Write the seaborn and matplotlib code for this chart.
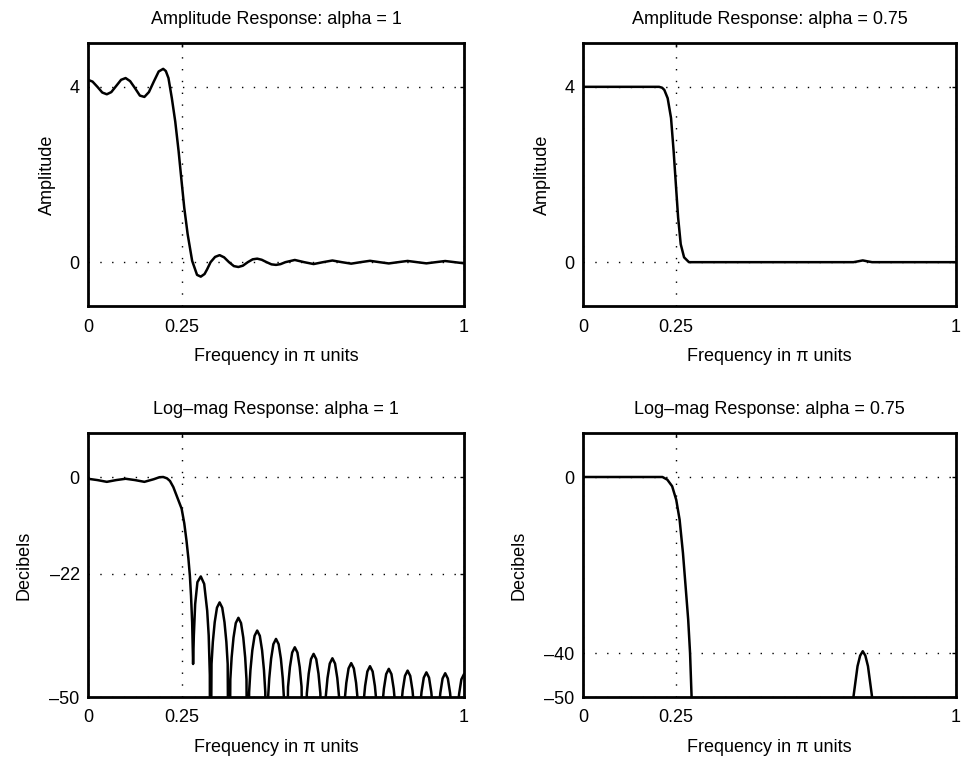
import matplotlib
matplotlib.use("Agg")
import matplotlib.pyplot as plt
import seaborn as sns

# ---------------- data ----------------
x_ticks = [0, 0.25, 1]
x_ticklabels = ["0", "0.25", "1"]

titles = ["Amplitude Response: alpha = 1", "Amplitude Response: alpha = 0.75",
          "Log\u2013mag Response: alpha = 1", "Log\u2013mag Response: alpha = 0.75"]

# Amplitude response, alpha = 1
freq_amp1 = [0.000, 0.012, 0.025, 0.038, 0.050, 0.062, 0.075, 0.088, 0.100, 0.112,
             0.125, 0.138, 0.150, 0.162, 0.175, 0.188, 0.200, 0.207, 0.214, 0.223,
             0.232, 0.241, 0.248, 0.256, 0.265, 0.277, 0.290, 0.300, 0.310, 0.317,
             0.326, 0.338, 0.350, 0.362, 0.375, 0.388, 0.400, 0.412, 0.425, 0.438,
             0.450, 0.462, 0.475, 0.488, 0.500, 0.512, 0.525, 0.550, 0.575, 0.600,
             0.625, 0.650, 0.675, 0.700, 0.725, 0.750, 0.775, 0.800, 0.825, 0.850,
             0.875, 0.900, 0.925, 0.950, 0.975, 1.000]
amp1 = [4.16, 4.12, 4.00, 3.87, 3.83, 3.88, 4.02, 4.16, 4.20, 4.13,
        3.97, 3.80, 3.77, 3.88, 4.12, 4.35, 4.41, 4.36, 4.20, 3.74,
        3.21, 2.53, 1.92, 1.24, 0.64, 0.03, -0.29, -0.33, -0.27, -0.16,
        0.00, 0.12, 0.16, 0.11, 0.00, -0.09, -0.11, -0.08, 0.00, 0.065,
        0.08, 0.055, 0.00, -0.05, -0.062, -0.045, 0.00, 0.05, 0.00, -0.043,
        0.00, 0.038, 0.00, -0.034, 0.00, 0.031, 0.00, -0.029, 0.00, 0.028,
        0.00, -0.027, 0.00, 0.026, 0.00, -0.026]

# Amplitude response, alpha = 0.75
freq_amp2 = [0.000, 0.100, 0.204, 0.212, 0.218, 0.227, 0.236, 0.243, 0.249, 0.255,
             0.262, 0.271, 0.284, 0.500, 0.725, 0.738, 0.750, 0.762, 0.775, 1.000]
amp2 = [4.00, 4.00, 4.00, 3.98, 3.93, 3.74, 3.29, 2.53, 1.77, 1.02,
        0.41, 0.11, 0.00, 0.00, 0.00, 0.02, 0.04, 0.02, 0.00, 0.00]

# Log-magnitude response (dB), alpha = 1
freq_db1 = [0.000, 0.025, 0.050, 0.075, 0.100, 0.125, 0.150, 0.175, 0.190, 0.200,
            0.210, 0.218, 0.227, 0.236, 0.243, 0.249, 0.256, 0.262, 0.267, 0.271,
            0.274, 0.277, 0.2795,
            0.2815, 0.285, 0.291, 0.300, 0.309, 0.317, 0.321, 0.324, 0.325,
            0.3285, 0.332, 0.337, 0.343, 0.350, 0.357, 0.363, 0.368, 0.3715, 0.375,
            0.3785, 0.382, 0.387, 0.393, 0.400, 0.407, 0.413, 0.418, 0.4215, 0.425,
            0.4285, 0.432, 0.437, 0.443, 0.450, 0.457, 0.463, 0.468, 0.4715, 0.475,
            0.4785, 0.482, 0.487, 0.493, 0.500, 0.507, 0.513, 0.518, 0.5215, 0.525,
            0.532, 0.537, 0.543, 0.550, 0.557, 0.563, 0.568, 0.575,
            0.582, 0.587, 0.593, 0.600, 0.607, 0.613, 0.618, 0.625,
            0.632, 0.637, 0.643, 0.650, 0.657, 0.663, 0.668, 0.675,
            0.682, 0.687, 0.693, 0.700, 0.707, 0.713, 0.718, 0.725,
            0.732, 0.737, 0.743, 0.750, 0.757, 0.763, 0.768, 0.775,
            0.782, 0.787, 0.793, 0.800, 0.807, 0.813, 0.818, 0.825,
            0.832, 0.837, 0.843, 0.850, 0.857, 0.863, 0.868, 0.875,
            0.882, 0.887, 0.893, 0.900, 0.907, 0.913, 0.918, 0.925,
            0.932, 0.937, 0.943, 0.950, 0.957, 0.963, 0.968, 0.975,
            0.982, 0.987, 0.993, 1.000]
db1 = [-0.4, -0.7, -1.1, -0.7, -0.4, -0.7, -1.1, -0.5, -0.05, 0.0,
       -0.3, -0.9, -2.3, -4.3, -5.8, -7.2, -10.5, -14.5, -18.5, -22.5,
       -27.0, -33.0, -42.5,
       -36.0, -28.9, -23.9, -22.6, -24.3, -30.4, -36.0, -45.0, -90,
       -42.5, -37.5, -33.0, -29.7, -28.5, -29.7, -33.0, -37.5, -42.5, -90,
       -46.0, -41.0, -36.5, -33.2, -32.0, -33.2, -36.5, -41.0, -46.0, -90,
       -48.9, -43.9, -39.4, -36.1, -34.9, -36.1, -39.4, -43.9, -48.9, -90,
       -50.8, -45.8, -41.3, -38.0, -36.8, -38.0, -41.3, -45.8, -50.8, -90,
       -47.7, -43.2, -39.9, -38.7, -39.9, -43.2, -47.7, -90,
       -49.2, -44.7, -41.4, -40.2, -41.4, -44.7, -49.2, -90,
       -50.2, -45.7, -42.4, -41.2, -42.4, -45.7, -50.2, -90,
       -51.3, -46.8, -43.5, -42.3, -43.5, -46.8, -51.3, -90,
       -52.0, -47.5, -44.2, -43.0, -44.2, -47.5, -52.0, -90,
       -52.6, -48.1, -44.8, -43.6, -44.8, -48.1, -52.6, -90,
       -53.0, -48.5, -45.2, -44.0, -45.2, -48.5, -53.0, -90,
       -53.4, -48.9, -45.6, -44.4, -45.6, -48.9, -53.4, -90,
       -53.6, -49.1, -45.8, -44.6, -45.8, -49.1, -53.6, -90,
       -53.8, -49.3, -46.0, -44.8]

# Log-magnitude response (dB), alpha = 0.75
freq_db2 = [0.000, 0.100, 0.213, 0.226, 0.239, 0.250, 0.259, 0.268, 0.275, 0.282,
            0.287, 0.291, 0.296, 0.300, 0.500, 0.720, 0.725, 0.736, 0.743, 0.750,
            0.757, 0.764, 0.775, 0.780, 1.000]
db2 = [0.0, 0.0, 0.0, -0.6, -2.1, -5.2, -9.7, -17.3, -24.8, -32.4,
       -40.0, -49.7, -62.0, -70.0, -70.0, -70.0, -50.0, -43.0, -40.6, -39.6,
       -40.6, -43.0, -50.0, -70.0, -70.0]

amp_yticks = [0, 4]
amp_yticklabels = ["0", "4"]
db1_yticks = [-50, -22, 0]
db1_yticklabels = ["\u201350", "\u201322", "0"]
db2_yticks = [-50, -40, 0]
db2_yticklabels = ["\u201350", "\u201340", "0"]

assert len(freq_amp1) == len(amp1)
assert len(freq_amp2) == len(amp2)
assert len(freq_db1) == len(db1)
assert len(freq_db2) == len(db2)

# ---------------- drawing ----------------
sns.set_theme(style="white")
plt.rcParams['font.family'] = ['Liberation Sans', 'DejaVu Sans']
plt.rcParams['axes.unicode_minus'] = False

FS = 13
fig = plt.figure(figsize=(9.62, 7.59), dpi=100)
W, H = 962.0, 759.0
def pos(l, t, r, b):
    return [l / W, 1 - b / H, (r - l) / W, (b - t) / H]

ax_tl = fig.add_axes(pos(88, 43, 464, 306))
ax_tr = fig.add_axes(pos(583, 43, 956, 306))
ax_bl = fig.add_axes(pos(88, 433, 464, 697))
ax_br = fig.add_axes(pos(583, 433, 956, 697))

panels = [
    (ax_tl, freq_amp1, amp1, (-1, 5), amp_yticks, amp_yticklabels, "Amplitude", titles[0], 10),
    (ax_tr, freq_amp2, amp2, (-1, 5), amp_yticks, amp_yticklabels, "Amplitude", titles[1], 10),
    (ax_bl, freq_db1, db1, (-50, 10), db1_yticks, db1_yticklabels, "Decibels", titles[2], 12),
    (ax_br, freq_db2, db2, (-50, 10), db2_yticks, db2_yticklabels, "Decibels", titles[3], 12),
]

for ax, xs, ys, ylim, yt, ytl, ylab, title, ylpad in panels:
    sns.lineplot(x=xs, y=ys, ax=ax, color="black", linewidth=1.8, sort=False,
                 estimator=None)
    ax.set_xlim(0, 1)
    ax.set_ylim(*ylim)
    ax.set_xticks(x_ticks)
    ax.set_xticklabels(x_ticklabels)
    ax.set_yticks(yt)
    ax.set_yticklabels(ytl)
    ax.grid(True, color="black", linestyle=(0, (1, 7.5)), linewidth=1.0)
    ax.set_axisbelow(True)
    for sp in ax.spines.values():
        sp.set_visible(True)
        sp.set_color("black")
        sp.set_linewidth(2.0)
    ax.tick_params(direction="in", length=3, width=1.0, top=True, right=True,
                   labelsize=FS, colors="black", pad=6)
    ax.tick_params(axis="x", pad=9)
    ax.set_title(title, fontsize=FS, color="black", pad=14)
    ax.set_xlabel("Frequency in \u03c0 units", fontsize=FS, color="black", labelpad=9)
    ax.set_ylabel(ylab, fontsize=FS, color="black", labelpad=ylpad)
    ax.set_facecolor("white")

fig.savefig("out.png", dpi=100, facecolor="white")
